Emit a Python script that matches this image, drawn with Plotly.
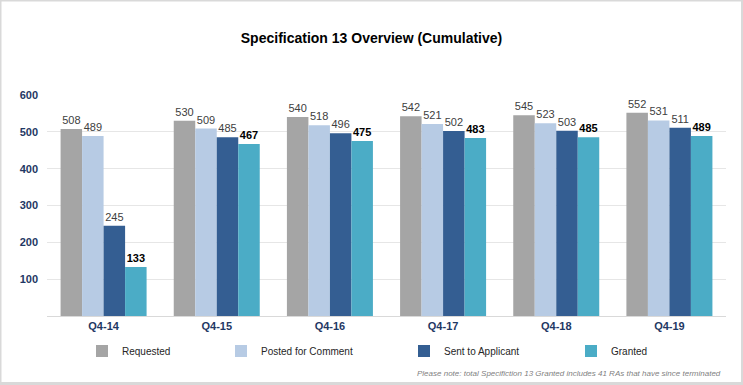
import plotly.graph_objects as go

categories = ["Q4-14", "Q4-15", "Q4-16", "Q4-17", "Q4-18", "Q4-19"]
requested = [508, 530, 540, 542, 545, 552]
posted = [489, 509, 518, 521, 523, 531]
sent = [245, 485, 496, 502, 503, 511]
granted = [133, 467, 475, 483, 485, 489]
y_ticks = [100, 200, 300, 400, 500, 600]

W, H = 743, 385
L, R, T, B = 47, 726, 95, 316


def px(p):
    return (p - L) / (R - L)


def py(q):
    return (B - q) / (B - T)


series = [
    ("Requested", requested, "#A5A5A5", "#404040", False, "legend", 116),
    ("Posted for Comment", posted, "#B7CBE4", "#404040", False, "legend2", 255),
    ("Sent to Applicant", sent, "#345E92", "#404040", False, "legend3", 438),
    ("Granted", granted, "#4BACC6", "#000000", True, "legend4", 605),
]

fig = go.Figure()
for name, vals, color, lblcol, bold, leg, lx in series:
    fig.add_trace(go.Bar(
        x=categories, y=vals, name=name,
        marker=dict(color=color, line=dict(width=0)),
        text=[f"<b>{v}</b>" if bold else str(v) for v in vals],
        textposition="outside",
        textfont=dict(family="Liberation Sans, Arial", size=11, color=lblcol),
        cliponaxis=False,
        legend=leg,
    ))

legend_common = dict(
    orientation="h", xref="paper", yref="paper", xanchor="left", yanchor="middle",
    font=dict(family="Liberation Sans, Arial", size=10, color="#262626"),
    bgcolor="rgba(0,0,0,0)", itemwidth=30, borderwidth=0,
)
layout_legends = {}
for name, vals, color, lblcol, bold, leg, lx in series:
    layout_legends[leg] = dict(legend_common, x=px(lx - 34), y=py(351))

fig.update_layout(
    width=W, height=H,
    margin=dict(l=L, r=W - R, t=T, b=H - B, pad=0),
    paper_bgcolor="white", plot_bgcolor="white",
    barmode="group", bargap=0.24, bargroupgap=0,
    showlegend=True,
    title=dict(
        text="<b>Specification 13 Overview (Cumulative)</b>",
        x=0.5, xanchor="center", y=1 - 38 / H, yanchor="middle",
        font=dict(family="Liberation Sans, Arial", size=14, color="#000000"),
    ),
    xaxis=dict(
        showgrid=False, showline=True, linecolor="#D9D9D9", linewidth=1,
        ticks="", tickfont=dict(family="Liberation Sans, Arial", size=11, color="#1F3864"),
        tickprefix="<b>", ticksuffix="</b>",
    ),
    yaxis=dict(
        range=[0, 600], tickvals=y_ticks, ticktext=[f"<b>{v}</b>" for v in y_ticks],
        showgrid=True, gridcolor="#E6E6E6", gridwidth=1, zeroline=False, showline=False,
        ticks="", ticklabelstandoff=8,
        tickfont=dict(family="Liberation Sans, Arial", size=11, color="#1F3864"),
    ),
    annotations=[dict(
        text="<i>Please note: total Specifiction 13 Granted includes 41 RAs that have since terminated</i>",
        xref="paper", yref="paper", x=px(723), y=py(373), xanchor="right", yanchor="middle",
        showarrow=False, font=dict(family="Liberation Sans, Arial", size=8, color="#7F7F7F"),
    )],
    shapes=[
        dict(type="rect", xref="paper", yref="paper", x0=px(0.5), x1=px(742), y0=py(383.5), y1=py(0.5),
             line=dict(color="#D9D9D9", width=2), fillcolor="rgba(0,0,0,0)", layer="above"),
        dict(type="line", xref="paper", yref="paper", x0=px(0), x1=px(743), y0=py(383.5), y1=py(383.5),
             line=dict(color="#D9D9D9", width=3)),
    ],
    **layout_legends,
)

fig.write_html(
    "out.html",
    config={"displayModeBar": False},
    post_script="document.body.style.margin='0';document.body.style.overflow='hidden';",
)
